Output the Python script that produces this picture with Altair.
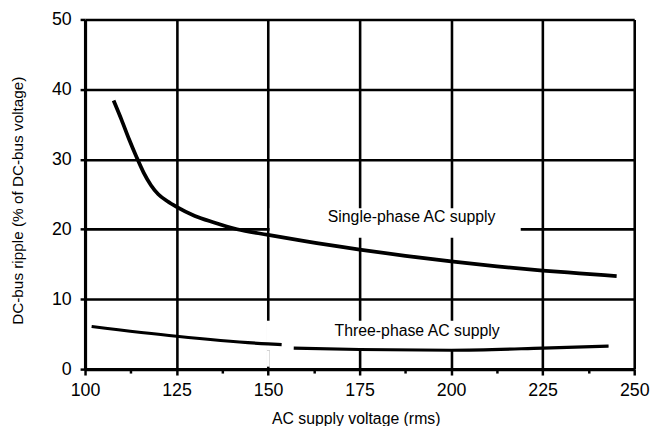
import altair as alt
import pandas as pd

# Single-phase AC supply curve
single_x = [107.8, 110, 112, 114, 116, 118, 120, 122.5, 125, 130, 135, 141.5, 150, 160, 175, 187.5, 200, 212.5, 225, 235, 245.2]
single_y = [38.4, 35.6, 32.9, 30.4, 28.1, 26.3, 25.0, 24.0, 23.2, 21.9, 21.0, 20.0, 19.2, 18.3, 17.1, 16.2, 15.4, 14.7, 14.1, 13.7, 13.3]

# Three-phase AC supply curve (drawn as two pieces, as in the source figure)
three_x = [101.8, 125, 150, 153.7, 157, 175, 200, 225, 243]
three_y = [6.1, 4.7, 3.6, 3.5, 3.0, 2.8, 2.7, 3.0, 3.3]
three_seg = [1, 1, 1, 1, 2, 2, 2, 2, 2]

labels_text = ["Single-phase AC supply", "Three-phase AC supply"]
labels_x = [189.2, 190.7]
labels_y = [21.7, 5.5]

x_ticks = [100, 112.5, 125, 137.5, 150, 162.5, 175, 187.5, 200, 212.5, 225, 237.5, 250]
y_ticks = [0, 5, 10, 15, 20, 25, 30, 35, 40, 45, 50]

single_df = pd.DataFrame({"x": single_x, "y": single_y})
three_df = pd.DataFrame({"x": three_x, "y": three_y, "seg": three_seg})
labels_df = pd.DataFrame({"x": labels_x, "y": labels_y, "text": labels_text})
boxes_df = pd.DataFrame({
    "x": [150.45, 149.6, 149.6],
    "x2": [219.0, 216.0, 150.45],
    "y": [18.8, 2.7, 0.35],
    "y2": [23.0, 6.9, 2.7],
})

FONT = "Liberation Sans"

x_scale = alt.Scale(domain=[100, 250], nice=False, zero=False)
y_scale = alt.Scale(domain=[0, 50], nice=False)

x_axis = alt.Axis(
    values=x_ticks,
    labelExpr="datum.value % 25 === 0 ? datum.label : ''",
    title="AC supply voltage (rms)",
    grid=True,
    gridColor="black",
    gridWidth=2.6,
    gridOpacity={"condition": {"test": "datum.value % 25 === 0", "value": 1}, "value": 0},
    tickSize={"condition": {"test": "datum.value % 25 === 0", "value": 6}, "value": 4},
    tickColor="black",
    tickWidth=2.5,
    domainColor="black",
    domainWidth=3.2,
    labelFont=FONT,
    labelFontSize=18,
    labelColor="black",
    labelPadding=7,
    labelFlush=False,
    titleFont=FONT,
    titleFontSize=16,
    titleFontWeight="normal",
    titleColor="black",
    titlePadding=11,
    titleX=274,
)

y_axis = alt.Axis(
    values=y_ticks,
    labelExpr="datum.value % 10 === 0 ? datum.label : ''",
    title="DC-bus ripple (% of DC-bus voltage)",
    grid=True,
    gridColor="black",
    gridWidth=2.6,
    gridOpacity={"condition": {"test": "datum.value % 10 === 0", "value": 1}, "value": 0},
    tickSize={"condition": {"test": "datum.value % 10 === 0", "value": 5}, "value": 3},
    tickColor="black",
    tickWidth=2.5,
    domainColor="black",
    domainWidth=3.2,
    labelFont=FONT,
    labelFontSize=18,
    labelColor="black",
    labelPadding=9,
    labelFlush=False,
    titleFont=FONT,
    titleFontSize=15.5,
    titleFontWeight="normal",
    titleColor="black",
    titlePadding=26,
    titleY=183,
)

boxes = alt.Chart(boxes_df).mark_rect(color="white").encode(
    x=alt.X("x:Q", scale=x_scale, axis=x_axis),
    x2="x2:Q",
    y=alt.Y("y:Q", scale=y_scale, axis=y_axis),
    y2="y2:Q",
)

single = alt.Chart(single_df).mark_line(color="black", strokeWidth=3.8, interpolate="monotone").encode(
    x=alt.X("x:Q", scale=x_scale),
    y=alt.Y("y:Q", scale=y_scale),
)

three = alt.Chart(three_df).mark_line(color="black", strokeWidth=3.2, interpolate="monotone").encode(
    x=alt.X("x:Q", scale=x_scale),
    y=alt.Y("y:Q", scale=y_scale),
    detail="seg:N",
)

texts = alt.Chart(labels_df).mark_text(font=FONT, fontSize=16, color="black", align="center", baseline="middle").encode(
    x=alt.X("x:Q", scale=x_scale),
    y=alt.Y("y:Q", scale=y_scale),
    text="text:N",
)

chart = alt.layer(boxes, single, three, texts).properties(
    width=556,
    height=354,
    autosize=alt.AutoSizeParams(type="none"),
    padding={"left": 78, "top": 9, "right": 18, "bottom": 55},
    background="white",
).configure_view(stroke=None)

chart.save("out.html", embed_options={"renderer": "svg", "actions": False})
